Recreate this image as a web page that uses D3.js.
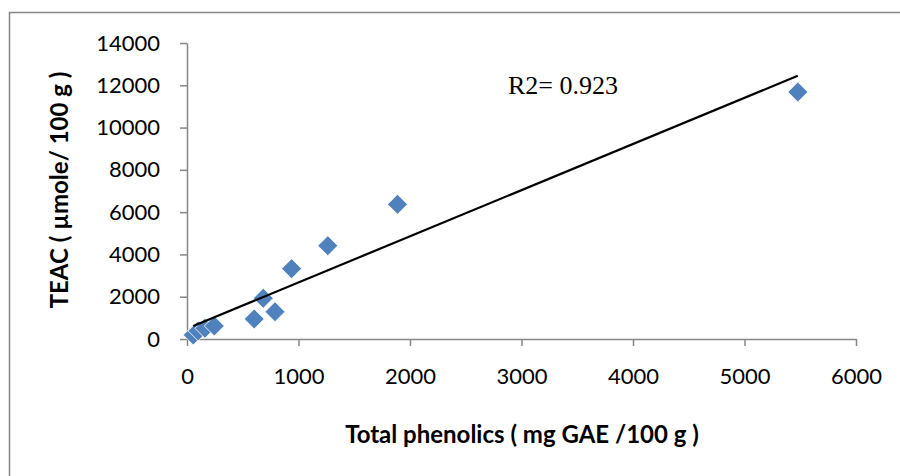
<!DOCTYPE html>
<html><head><meta charset="utf-8">
<script src="https://cdn.jsdelivr.net/npm/d3@7"></script>
<style>body{margin:0;background:#fff}svg{display:block}</style>
</head><body>
<svg id="c" width="900" height="476"></svg>
<script>
const phenolics = [56, 100, 161, 245, 603, 684, 789, 938, 1263, 1888, 5478];
const teac      = [189, 380, 506, 615, 946, 1925, 1291, 3325, 4413, 6371, 11682];
const xTicks = [0, 1000, 2000, 3000, 4000, 5000, 6000];
const yTicks = [0, 2000, 4000, 6000, 8000, 10000, 12000, 14000];
const trendSlope = 2.183, trendIntercept = 492;
const r2Label = "R2= 0.923";
const xTitle = "Total phenolics ( mg GAE /100 g )";
const yTitle = "TEAC ( µmole/ 100 g )";

const svg = d3.select("#c");
const grey = "#868686";
const x = d3.scaleLinear().domain([0, 6000]).range([187, 856]);
const y = d3.scaleLinear().domain([0, 14000]).range([339, 43]);
const fmt = d3.format("d");

svg.append("rect").attr("x", 9.5).attr("y", 12.5).attr("width", 900).attr("height", 500)
  .attr("fill", "none").attr("stroke", grey).attr("stroke-width", 1.5);

const xa = svg.append("g").attr("transform", "translate(0,339)")
  .call(d3.axisBottom(x).tickValues(xTicks).tickFormat(fmt).tickSize(7).tickSizeOuter(0).tickPadding(22));
const ya = svg.append("g").attr("transform", "translate(187,0)")
  .call(d3.axisLeft(y).tickValues(yTicks).tickFormat(fmt).tickSize(7).tickSizeOuter(0).tickPadding(20));
[xa, ya].forEach(a => {
  a.select(".domain").attr("stroke", grey).attr("stroke-width", 1.5);
  a.selectAll(".tick line").attr("stroke", grey).attr("stroke-width", 1.5);
  a.selectAll("text").attr("font-family", "Lato, sans-serif").attr("font-size", 22).attr("fill", "#000");
});

const pts = phenolics.map((v, i) => [v, teac[i]]);
svg.append("g").selectAll("path").data(pts).join("path")
  .attr("transform", d => `translate(${x(d[0])},${y(d[1])}) rotate(45)`)
  .attr("d", d3.symbol(d3.symbolSquare, 200)())
  .attr("fill", "#4F81BD").attr("stroke", "#fff").attr("stroke-width", 0.8);

const x0 = d3.min(phenolics), x1 = d3.max(phenolics);
svg.append("line")
  .attr("x1", x(x0)).attr("y1", y(trendIntercept + trendSlope * x0))
  .attr("x2", x(x1)).attr("y2", y(trendIntercept + trendSlope * x1))
  .attr("stroke", "#000").attr("stroke-width", 2.2);

svg.append("text").attr("x", 508).attr("y", 94).text(r2Label)
  .attr("font-family", "'Liberation Serif', serif").attr("font-size", 26);

svg.append("text").attr("x", 522).attr("y", 443).attr("text-anchor", "middle").text(xTitle)
  .attr("font-family", "Lato, sans-serif").attr("font-weight", "bold").attr("font-size", 24);
svg.append("text").attr("transform", "translate(68,190) rotate(-90)").attr("text-anchor", "middle").text(yTitle)
  .attr("font-family", "Lato, sans-serif").attr("font-weight", "bold").attr("font-size", 24);
</script>
</body></html>
